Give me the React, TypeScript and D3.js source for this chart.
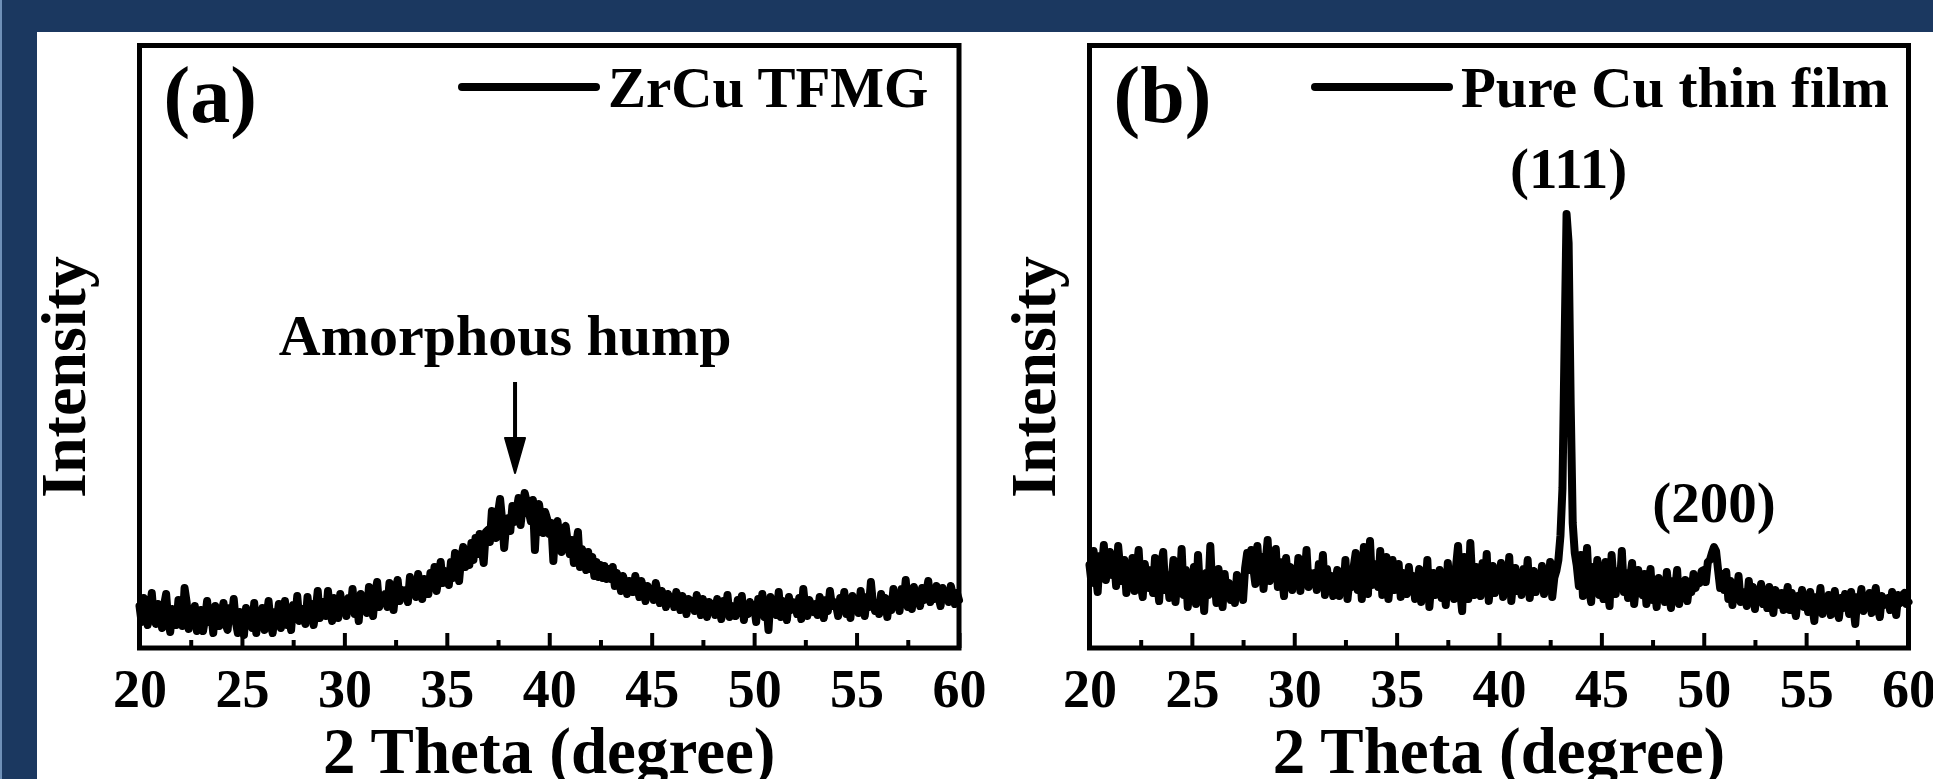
import React, { useEffect, useRef } from "react";
import * as d3 from "d3";

const W = 1933;
const H = 779;
const FONT = "'Liberation Serif', 'Times New Roman', Times, serif";
const NAVY = "#1b3860";

// 2-theta grid, 0.1 degree steps
const thetaStart = 20;
const thetaStep = 0.1;
const majorTicks = [20, 25, 30, 35, 40, 45, 50, 55, 60];
const minorTicks = [22.5, 27.5, 32.5, 37.5, 42.5, 47.5, 52.5, 57.5];

// (a) ZrCu TFMG, one row per degree
const zrcuIntensity = [
  42,26,50,35,23,39,55,30,24,44,
  34,20,43,54,27,16,39,32,23,48,
  38,22,60,46,19,33,26,42,17,29,
  38,17,29,47,26,36,15,42,31,22,
  35,45,24,18,40,29,49,26,15,36,
  29,13,40,25,33,20,45,15,36,27,
  40,18,31,47,24,15,36,27,44,20,
  32,47,23,38,18,43,29,52,27,36,
  39,24,51,32,44,23,37,57,30,42,
  46,32,57,37,27,50,41,30,54,39,
  43,32,50,38,59,34,47,27,54,41,
  48,35,61,44,32,55,66,41,52,46,
  54,41,65,49,38,59,68,47,58,52,
  58,46,71,55,65,51,74,60,49,69,
  66,54,75,63,81,57,70,86,65,77,
  76,63,86,70,95,79,67,90,101,81,
  97,83,105,88,110,94,114,100,85,116,
  118,106,137,128,110,135,149,128,100,124,
  130,117,142,126,137,150,123,141,155,146,
  136,127,148,98,137,144,129,115,136,129,
  114,125,87,121,127,110,96,119,122,106,
  94,108,85,102,116,81,99,90,78,96,
  79,91,72,86,71,83,70,82,69,79,
  69,81,62,75,67,57,72,64,54,67,
  65,56,72,60,51,67,56,47,62,53,
  59,48,65,54,45,57,50,41,54,47,
  50,41,56,47,38,52,43,34,49,40,
  47,37,53,42,33,49,38,31,46,40,
  44,33,49,38,29,47,36,53,31,42,
  41,32,48,35,52,28,43,34,46,39,
  42,26,49,36,54,31,45,18,51,40,
  42,33,56,31,47,37,28,51,38,46,
  43,34,50,29,59,39,32,48,41,36,
  44,33,51,39,30,48,37,57,42,46,
  43,32,50,39,56,34,45,30,52,41,
  46,35,57,42,32,51,41,66,44,37,
  45,34,54,41,50,31,47,38,59,43,
  48,37,59,45,68,41,52,39,61,50,
  51,42,60,48,55,67,46,57,49,62,
  51,42,60,49,56,46,62,53,44,55,
  48,
];

// (b) pure Cu thin film
const cuIntensity = [
  83,65,97,74,56,92,78,103,68,86,
  96,73,90,62,102,79,67,88,55,76,
  69,90,57,78,98,63,51,84,70,60,
  78,55,90,67,47,84,96,58,73,50,
  65,88,46,72,59,99,53,78,41,67,
  61,81,44,93,56,70,37,75,53,102,
  57,70,45,79,62,41,74,53,65,48,
  61,45,73,55,67,48,80,95,78,98,
  80,64,102,73,91,59,85,108,67,88,
  80,99,61,86,72,52,90,67,81,58,
  78,64,90,57,83,70,98,61,75,67,
  75,58,84,67,93,53,79,61,72,52,
  65,78,52,72,58,88,49,69,61,81,
  95,58,81,49,101,67,54,107,63,73,
  84,61,97,53,75,91,49,70,88,58,
  69,84,51,75,63,54,81,58,72,49,
  62,79,46,72,55,88,41,67,75,53,
  58,78,50,67,43,85,61,72,49,81,
  102,58,37,91,70,49,105,65,53,81,
  73,52,85,61,94,47,70,82,55,76,
  65,85,51,73,59,91,47,68,80,57,
  71,53,79,60,88,50,68,77,56,74,
  63,82,54,73,60,86,51,70,77,88,
  112,160,300,434,405,245,125,95,82,62,
  93,52,73,100,58,46,81,64,88,53,
  69,49,86,58,42,93,66,54,77,61,
  97,56,75,50,69,85,44,64,78,58,
  53,74,44,65,79,48,61,41,70,57,
  64,46,76,53,40,67,58,78,44,61,
  53,68,47,64,56,74,60,68,65,77,
  78,66,86,88,95,101,97,78,60,74,
  58,76,49,67,43,61,53,72,46,56,
  55,42,67,48,61,39,58,47,64,44,
  52,40,61,46,35,58,49,43,55,38,
  49,61,38,55,42,32,52,45,58,41,
  47,36,56,43,27,51,40,60,34,48,
  43,53,33,47,57,37,30,50,40,54,
  48,34,56,42,24,51,43,59,37,47,
  46,55,35,48,60,40,31,52,43,49,
  50,38,56,44,33,53,45,53,55,44,
  46,
];

const panelLabels = ["(a)", "(b)"];
const legendNames = ["ZrCu TFMG", "Pure Cu thin film"];
const peakLabels = [
  { text: "(111)", theta: 43.4, intensity: 460 },
  { text: "(200)", theta: 50.5, intensity: 126 },
];
const humpNote = { text: "Amorphous hump", theta: 37.85, intensity: 293, arrowTheta: 38.33, arrowFrom: 266, arrowTo: 175 };

const layout = [
  { left: 139.5, right: 959, yLabelX: 85, legendX: 462 },
  { left: 1089.5, right: 1908.5, yLabelX: 1055, legendX: 1315 },
];
const TOP = 45.5;
const BOTTOM = 648;

function Panel({ idx, values }: { idx: number; values: number[] }) {
  const axisRef = useRef<SVGGElement>(null);
  const lay = layout[idx];
  const x = d3.scaleLinear().domain([20, 60]).range([lay.left, lay.right]);
  const y = d3.scaleLinear().domain([0, 600]).range([BOTTOM, BOTTOM - 600]);
  const pts = values.map((v, i) => [thetaStart + i * thetaStep, v] as [number, number]);
  const line = d3.line<[number, number]>().x(d => x(d[0])).y(d => y(d[1]));

  useEffect(() => {
    const g = d3.select(axisRef.current);
    g.selectAll("*").remove();
    const minor = d3.axisBottom(x).tickValues(minorTicks).tickSize(-8).tickFormat(() => "");
    const major = d3.axisBottom(x).tickValues(majorTicks).tickSize(-15).tickPadding(21).tickFormat(d3.format("d"));
    const gMin = g.append("g").call(minor);
    const gMaj = g.append("g").call(major);
    [gMin, gMaj].forEach(s => {
      s.select(".domain").remove();
      s.selectAll(".tick line").attr("stroke", "#000").attr("stroke-width", 4);
    });
    gMaj.selectAll("text")
      .attr("font-family", FONT)
      .attr("font-size", 54)
      .attr("font-weight", "bold")
      .attr("fill", "#000");
  }, []);

  const cx = (lay.left + lay.right) / 2;
  const legendY = 87;

  return (
    <g>
      <path d={line(pts) || ""} fill="none" stroke="#000" strokeWidth={8} strokeLinejoin="round" strokeLinecap="round" />
      <rect x={lay.left} y={TOP} width={lay.right - lay.left} height={BOTTOM - TOP} fill="none" stroke="#000" strokeWidth={5} />
      <g ref={axisRef} transform={`translate(0,${BOTTOM})`} />
      <text x={lay.left + 24} y={122} fontSize={80} fontWeight="bold" fontFamily={FONT}>{panelLabels[idx]}</text>
      <line x1={lay.legendX} x2={lay.legendX + 134} y1={legendY} y2={legendY} stroke="#000" strokeWidth={8} strokeLinecap="round" />
      <text x={lay.legendX + 146} y={107} fontSize={57} fontWeight="bold" fontFamily={FONT}>{legendNames[idx]}</text>
      <text x={cx} y={773} fontSize={65} fontWeight="bold" fontFamily={FONT} textAnchor="middle">2 Theta (degree)</text>
      <text transform={`translate(${lay.yLabelX},377) rotate(-90)`} fontSize={64} fontWeight="bold" fontFamily={FONT} textAnchor="middle">Intensity</text>
      {idx === 0 && (
        <g>
          <text x={x(humpNote.theta)} y={y(humpNote.intensity)} fontSize={58} fontWeight="bold" fontFamily={FONT} textAnchor="middle">{humpNote.text}</text>
          <line x1={x(humpNote.arrowTheta)} x2={x(humpNote.arrowTheta)} y1={y(humpNote.arrowFrom)} y2={y(humpNote.arrowTo) - 30} stroke="#000" strokeWidth={4} />
          <path d={`M${x(humpNote.arrowTheta) - 10},${y(humpNote.arrowTo) - 35} L${x(humpNote.arrowTheta) + 10},${y(humpNote.arrowTo) - 35} L${x(humpNote.arrowTheta)},${y(humpNote.arrowTo)} Z`} fill="#000" stroke="#000" strokeWidth={2} strokeLinejoin="round" />
        </g>
      )}
      {idx === 1 && peakLabels.map(p => (
        <text key={p.text} x={x(p.theta)} y={y(p.intensity)} fontSize={57} fontWeight="bold" fontFamily={FONT} textAnchor="middle">{p.text}</text>
      ))}
    </g>
  );
}

export default function App() {
  return (
    <svg width={W} height={H} style={{ position: "absolute", left: 0, top: 0 }}>
      <rect x={0} y={0} width={W} height={H} fill={NAVY} />
      <rect x={0} y={0} width={2} height={H} fill="#6f90b8" />
      <rect x={37} y={32} width={W - 37} height={H - 32} fill="#fff" />
      <Panel idx={0} values={zrcuIntensity} />
      <Panel idx={1} values={cuIntensity} />
    </svg>
  );
}
